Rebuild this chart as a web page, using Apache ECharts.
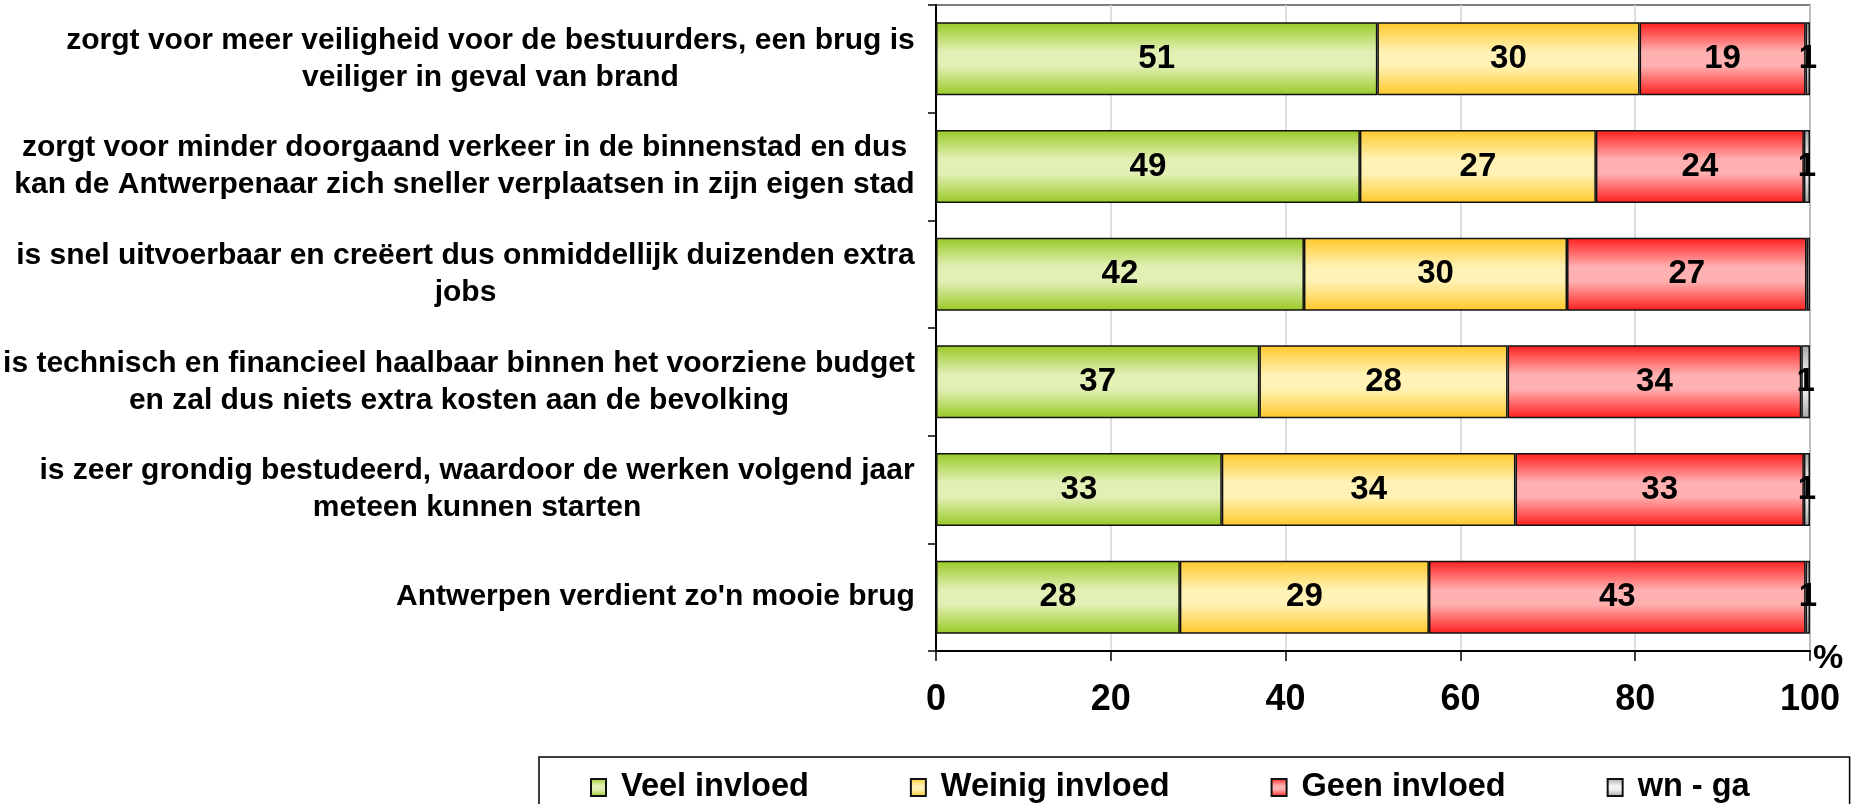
<!DOCTYPE html>
<html style="height: 100%">
<head>
  <meta charset="utf-8">
  <script src="https://cdn.jsdelivr.net/npm/echarts@6/dist/echarts.min.js"></script>
</head>
<body style="height: 100%; margin: 0; background: #fff">
<div id="container" style="width: 1857px; height: 804px;"></div>
<script type="text/javascript">
// stellingen, top to bottom
var categories = [
  "zorgt voor meer veiligheid voor de bestuurders, een brug is\nveiliger in geval van brand",
  "zorgt voor minder doorgaand verkeer in de binnenstad en dus\nkan de Antwerpenaar zich sneller verplaatsen in zijn eigen stad",
  "is snel uitvoerbaar en creëert dus onmiddellijk duizenden extra\njobs",
  "is technisch en financieel haalbaar binnen het voorziene budget\nen zal dus niets extra kosten aan de bevolking",
  "is zeer grondig bestudeerd, waardoor de werken volgend jaar\nmeteen kunnen starten",
  "Antwerpen verdient zo'n mooie brug"
];
var seriesNames = ["Veel invloed", "Weinig invloed", "Geen invloed", "wn - ga"];
var veel   = [50.5, 48.5, 42.1, 37.0, 32.7, 27.9];
var weinig = [30.0, 27.0, 30.1, 28.4, 33.6, 28.5];
var geen   = [19.0, 23.8, 27.4, 33.6, 33.0, 43.1];
var wnga   = [0.5, 0.7, 0.4, 1.0, 0.7, 0.5];
var xTicks = [0, 20, 40, 60, 80, 100];

var FONT = "'Liberation Sans', Arial, sans-serif";

// edge / middle colours of the striped fills
var fills = [
  ['#99c925', '#e2f0b6'],
  ['#ffc82a', '#fff2b4'],
  ['#ff1e1e', '#ffb0b0'],
  ['#a4a4a4', '#f2f2f2']
];
function stripe(c) {
  return new echarts.graphic.LinearGradient(0, 0, 0, 1, [
    {offset: 0, color: c[0]},
    {offset: 0.4, color: c[1]},
    {offset: 0.6, color: c[1]},
    {offset: 1, color: c[0]}
  ]);
}

// measure label lines so that every label block is centred line by line
var ctx = document.createElement('canvas').getContext('2d');
ctx.font = "bold 30px " + FONT;
var rich = {};
for (var i = 0; i < categories.length; i++) {
  var lines = categories[i].split('\n');
  var w = 0;
  for (var j = 0; j < lines.length; j++) {
    w = Math.max(w, ctx.measureText(lines[j]).width);
  }
  rich['r' + i] = {
    width: Math.ceil(w) + 2,
    align: 'center',
    fontSize: 30,
    fontWeight: 'bold',
    fontFamily: FONT,
    color: '#000',
    lineHeight: 37
  };
}

var myChart = echarts.init(document.getElementById('container'));

var allData = [veel, weinig, geen, wnga];
var series = [];
for (var s = 0; s < allData.length; s++) {
  series.push({
    name: seriesNames[s],
    type: 'bar',
    stack: 'total',
    barWidth: 73,
    data: allData[s],
    itemStyle: {
      color: stripe(fills[s]),
      borderColor: '#111',
      borderWidth: 1.5
    },
    label: {
      show: true,
      position: 'inside',
      color: '#000',
      fontSize: 33,
      fontWeight: 'bold',
      fontFamily: FONT,
      formatter: function (p) {
        var v = Math.round(p.value);
        return v > 0 ? String(v) : '';
      }
    }
  });
}

var option = {
  animation: false,
  backgroundColor: '#fff',
  grid: {
    left: 936,
    right: 47,
    top: 5,
    bottom: 153,
    outerBoundsMode: 'none',
    containLabel: false,
    show: true,
    borderColor: '#555',
    borderWidth: 1.5,
    backgroundColor: 'transparent'
  },
  legend: {
    data: seriesNames,
    left: 539,
    top: 757,
    orient: 'horizontal',
    itemGap: 101,
    itemWidth: 15,
    itemHeight: 17,
    padding: [14, 100, 14, 51],
    borderColor: '#000',
    borderWidth: 1.5,
    icon: 'rect',
    textStyle: {
      fontSize: 32.5,
      fontWeight: 'bold',
      fontFamily: FONT,
      color: '#000',
      padding: [0, 0, 0, 10]
    }
  },
  xAxis: {
    type: 'value',
    min: 0,
    max: 100,
    interval: 20,
    name: '%',
    nameLocation: 'end',
    nameGap: 3,
    nameTextStyle: {
      fontSize: 34,
      fontWeight: 'bold',
      fontFamily: FONT,
      color: '#000',
      verticalAlign: 'top',
      lineHeight: 16
    },
    axisLine: {show: true, lineStyle: {color: '#000', width: 2}},
    axisTick: {show: true, length: 10, lineStyle: {color: '#000', width: 1.5}},
    axisLabel: {
      margin: 31,
      fontSize: 36,
      fontWeight: 'bold',
      fontFamily: FONT,
      color: '#000',
      formatter: function (v) { return xTicks.indexOf(v) >= 0 ? String(v) : ''; }
    },
    splitLine: {show: true, lineStyle: {color: '#d4d4d4', width: 1.5}}
  },
  yAxis: {
    type: 'category',
    inverse: true,
    data: categories,
    axisLine: {show: true, lineStyle: {color: '#000', width: 2}},
    axisTick: {show: true, length: 8, lineStyle: {color: '#000', width: 1.5}},
    axisLabel: {
      margin: 20,
      align: 'right',
      formatter: function (value, index) {
        return value.split('\n').map(function (l) {
          return '{r' + index + '|' + l + '}';
        }).join('\n');
      },
      rich: rich
    }
  },
  series: series
};

myChart.setOption(option, true);
</script>
</body>
</html>
